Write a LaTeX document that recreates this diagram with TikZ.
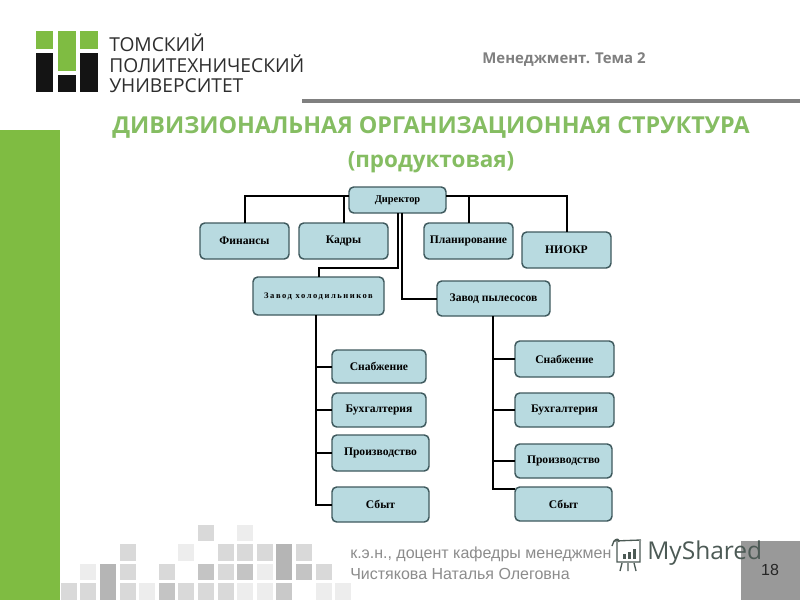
\documentclass[tikz,border=0pt]{standalone}
\usepackage{fontspec}
\setmainfont{Liberation Sans}
\newfontfamily\headfont{Open Sans}
\newfontfamily\boxfont{Liberation Serif}
\newfontfamily\boxwide[LetterSpace=18]{Liberation Serif}
\definecolor{tpugreen}{HTML}{7FBC42}
\definecolor{titlegreen}{HTML}{85BD62}
\definecolor{boxfill}{HTML}{B8DAE0}
\definecolor{boxedge}{HTML}{3F5A5E}
\definecolor{mshared}{HTML}{4C5A55}
\tikzset{
  orgbox/.style={draw=boxedge,fill=boxfill,line width=1.1pt,rounded corners=3.5pt,inner sep=0pt,outer sep=0pt,
    font=\boxfont\bfseries\fontsize{8.7}{10}\selectfont,text=black},
  link/.style={draw=black,line width=1.5pt},
  headtext/.style={font=\headfont\bfseries\fontsize{11.2}{13}\selectfont,text=black!50},
  titletext/.style={font=\headfont\bfseries\fontsize{17.5}{20}\selectfont,text=titlegreen},
  logotext/.style={font=\headfont\fontsize{14.4}{16}\selectfont,text=black!82,anchor=west,inner sep=0pt},
  foottext/.style={font=\fontsize{12}{14}\selectfont,text=black!45,anchor=west,inner sep=0pt},
  mslogo/.style={draw=mshared,line width=1pt},
}
\newcommand{\orgnode}[6]{\node[orgbox,minimum width={(#4-#2)*0.75pt},minimum height={(#5-#3)*0.75pt}] (#1) at ({(#2+#4)/2},{(#3+#5)/2}) {#6};}
\newcommand{\pxrect}[5]{\fill[#5] (#1,#2) rectangle (#3,#4);}
\newcommand{\cell}[4]{\fill[black!#4] ({60.7+19.6*#1},#2) rectangle ({76.7+19.6*#1},#3);}
\begin{document}
\begin{tikzpicture}[x=0.75pt,y=-0.75pt]
\useasboundingbox (0,0) rectangle (800,600);
\fill[white] (0,0) rectangle (800,600);
% background
\pxrect{0}{130}{60}{600}{tpugreen}
\pxrect{302}{99}{800}{103}{black!50}
\pxrect{741}{541}{800}{600}{black!40}
% pixel pattern
\foreach \c/\v in {0/15,1/15,3/15,4/7,5/23,6/15,7/15,8/15,9/7,10/7,11/21,13/7,14/7}{\cell{\c}{583}{600}{\v}}
\foreach \c/\v in {1/7,3/15,5/15,7/23,8/15,9/23,10/7,12/23,13/15}{\cell{\c}{564}{580}{\v}}
\foreach \c/\v in {3/15,6/7,8/15,9/15,10/15,12/15}{\cell{\c}{544}{561}{\v}}
\foreach \c/\v in {7/15,9/7}{\cell{\c}{525}{541}{\v}}
\cell{2}{564}{600}{29}
\cell{11}{544}{580}{29}
% logo
\pxrect{36}{31}{53}{49}{tpugreen}
\pxrect{58}{31}{76}{71}{tpugreen}
\pxrect{80}{31}{98}{49}{tpugreen}
\pxrect{36}{53}{53}{92}{black!92}
\pxrect{58}{75}{76}{92}{black!92}
\pxrect{80}{53}{98}{92}{black!92}
\node[logotext] (l1) at (109,43) {ТОМСКИЙ};
\node[logotext] (l2) at (109,64) {ПОЛИТЕХНИЧЕСКИЙ};
\node[logotext] (l3) at (109,86) {УНИВЕРСИТЕТ};
% headings
\node[headtext] (head) at (564,60) {Менеджмент. Тема 2};
\node[titletext] (t1) at (431,127) {ДИВИЗИОНАЛЬНАЯ ОРГАНИЗАЦИОННАЯ СТРУКТУРА};
\node[titletext,font=\headfont\bfseries\fontsize{16.8}{20}\selectfont] (t2) at (431,162) {(продуктовая)};
% nodes
\orgnode{dir}{349}{187}{446}{213}{\fontsize{7.8}{9}\selectfont Директор}
\orgnode{fin}{200}{223}{289}{259}{Финансы}
\orgnode{kad}{299}{223}{388}{259}{Кадры}
\orgnode{plan}{424}{223}{513}{259}{Планирование}
\orgnode{niokr}{522}{232}{611}{268}{НИОКР}
\orgnode{zh}{253}{277}{384}{315}{\boxwide\bfseries\fontsize{6.4}{8}\selectfont Завод холодильников}
\orgnode{zp}{437}{281}{550}{316}{Завод пылесосов}
\orgnode{sa}{332}{350}{426}{383}{Снабжение}
\orgnode{ba}{332}{393}{426}{427}{Бухгалтерия}
\orgnode{pa}{332}{435}{429}{471}{Производство}
\orgnode{ca}{332}{487}{429}{522}{Сбыт}
\orgnode{sb}{515}{341}{614}{377}{Снабжение}
\orgnode{bb}{515}{393}{614}{427}{Бухгалтерия}
\orgnode{pb}{515}{444}{612}{478}{Производство}
\orgnode{cb}{515}{487}{612}{521}{Сбыт}
\coordinate (dl) at (349,196);
\coordinate (dr) at (446,196);
\coordinate (d1) at (398,213);
\coordinate (d2) at (402,213);
\coordinate (m1) at (398,268);
\coordinate (ta) at (316,315);
\coordinate (tb) at (493,316);
\coordinate (cbtop) at (515,489);
\draw[link] (dl) -| (fin.north);
\draw[link] (dl) -| (kad.north);
\draw[link] (dr) -| (plan.north);
\draw[link] (dr) -| (niokr.north);
\draw[link] (d1) -- (m1) -| (zh.north);
\draw[link] (d2) |- (zp.west);
\draw[link] (ta) |- (sa.west);
\draw[link] (ta) |- (ba.west);
\draw[link] (ta) |- (pa.west);
\draw[link] (ta) |- (ca.west);
\draw[link] (tb) |- (sb.west);
\draw[link] (tb) |- (bb.west);
\draw[link] (tb) |- (pb.west);
\draw[link] (tb) |- (cbtop);
% footer
\node[foottext] (f1) at (350,554) {к.э.н.,  доцент кафедры менеджмен};
\node[foottext] (f2) at (350,574) {Чистякова Наталья Олеговна};
\node[font=\fontsize{12}{14}\selectfont,text=black!85] (num) at (770,570) {18};
% MyShared mark
\fill[white] (613,541) rectangle (640,562);
\draw[mslogo] (614,541) -- (641,540) (617,542) -- (617,562) -- (640,562) -- (640,541);
\draw[mslogo] (614,541) -- (612,546) (614,541) .. controls (617,538) and (619,539) .. (619,542);
\pxrect{623}{554}{626}{559}{mshared}
\pxrect{628}{552}{631}{559}{mshared}
\pxrect{633}{549}{636}{559}{mshared}
\draw[mslogo] (622,563) -- (620,571) (628,563) -- (628,571) (634,563) -- (636,571);
\node[font=\headfont\fontsize{18.4}{20}\selectfont,text=mshared,anchor=west,inner sep=0pt] (ms) at (647,553) {MyShared};
\end{tikzpicture}
\end{document}
